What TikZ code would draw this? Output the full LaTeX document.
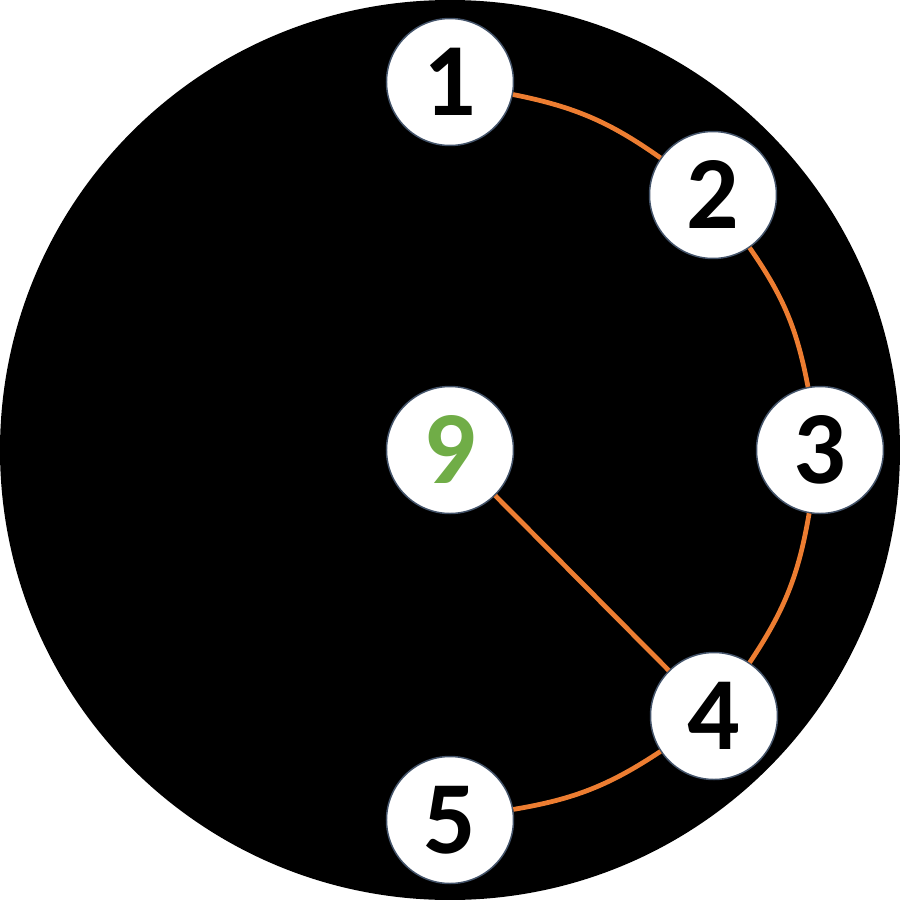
\documentclass[tikz,border=0pt]{standalone}
\usepackage{fontspec}
\setmainfont{Carlito}
\definecolor{orangeline}{HTML}{ED7D31}
\definecolor{greennum}{HTML}{70AD47}
\definecolor{rimcol}{HTML}{44546A}
\begin{document}
\begin{tikzpicture}[
  numnode/.style={circle, fill=white, draw=rimcol, line width=0.85pt,
    minimum size=2.54cm, inner sep=0pt,
    font=\fontsize{59}{59}\selectfont\bfseries},
  link/.style={draw=orangeline, line width=2.7pt}
]
\useasboundingbox (-9,-9) rectangle (9,9);
\fill[white] (-9,-9) rectangle (9,9);
\fill[black] (0,0) circle (9);
\node[numnode] (n1) at (0,7.36) {1};
\node[numnode] (n2) at (5.26,5.1) {2};
\node[numnode] (n3) at (7.4,0) {3};
\node[numnode] (n4) at (5.28,-5.32) {4};
\node[numnode] (n5) at (0,-7.4) {5};
\node[numnode, text=greennum] (n9) at (0,0) {9};
\path[link] (n1) to[bend left=12] (n2);
\path[link] (n2) to[bend left=12] (n3);
\path[link] (n3) to[bend left=12] (n4);
\path[link] (n4) to[bend left=12] (n5);
\path[link] (n9) -- (n4);
\end{tikzpicture}
\end{document}
